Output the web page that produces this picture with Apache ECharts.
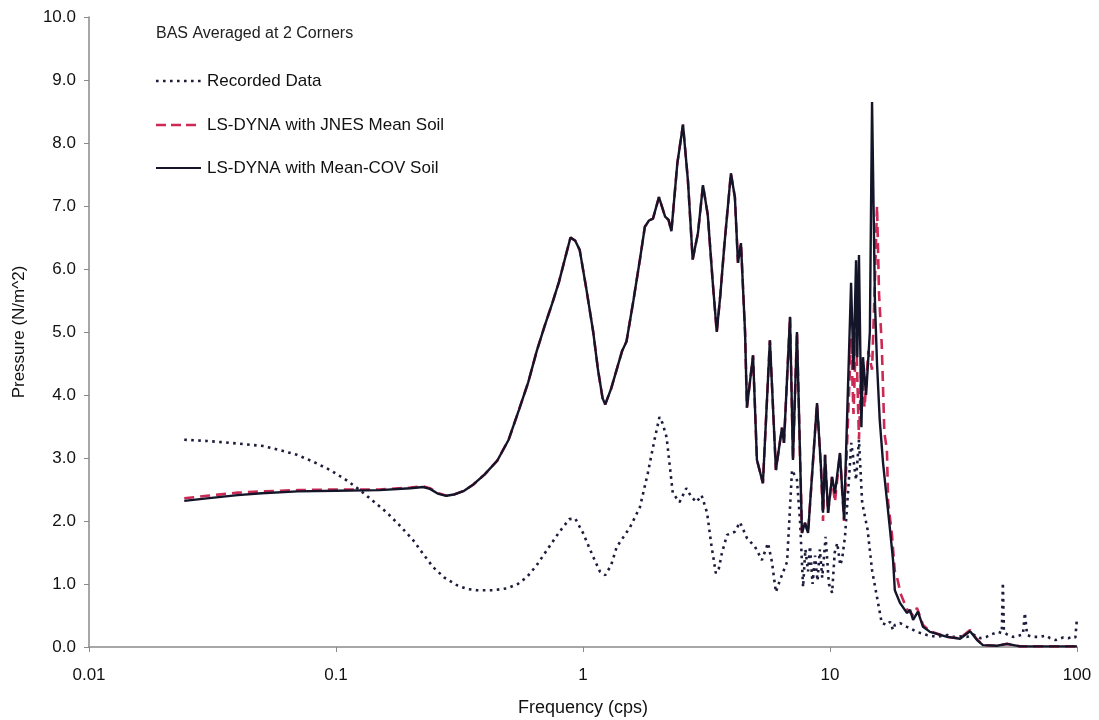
<!DOCTYPE html>
<html>
<head>
<meta charset="utf-8">
<script src="https://cdn.jsdelivr.net/npm/echarts@6/dist/echarts.min.js"></script>
<style>
html,body{margin:0;padding:0;background:#fff;width:1099px;height:720px;overflow:hidden;}
#chart{position:absolute;left:0;top:0;width:1099px;height:720px;}
</style>
</head>
<body>
<div id="chart"></div>
<script>
// ---- Data ----
var chartTitle = 'BAS Averaged at 2 Corners';
var seriesNames = ['Recorded Data', 'LS-DYNA with JNES Mean Soil', 'LS-DYNA with Mean-COV Soil'];
var xTickLabels = ['0.01', '0.1', '1', '10', '100'];
var yTickLabels = ['0.0','1.0','2.0','3.0','4.0','5.0','6.0','7.0','8.0','9.0','10.0'];

// Recorded Data (dotted)
var recFreq = [0.0243,0.030,0.035,0.045,0.0507,0.060,0.0695,0.080,0.0946,0.110,0.125,0.142,0.161,0.182,0.205,0.225,0.247,0.275,0.309,0.34,0.372,0.43,0.492,0.545,0.593,0.650,0.715,0.80,0.88,0.93,1.00,1.10,1.17,1.23,1.30,1.37,1.55,1.70,1.83,1.95,2.04,2.10,2.18,2.31,2.46,2.62,2.75,2.88,3.02,3.18,3.30,3.45,3.55,3.65,3.83,4.12,4.32,4.61,4.97,5.30,5.61,5.82,6.04,6.27,6.70,7.02,7.35,7.56,7.78,7.95,8.15,8.3,8.5,8.7,8.9,9.1,9.3,9.6,9.9,10.2,10.45,10.7,11.0,11.2,11.5,11.9,12.2,12.75,13.1,13.5,14.2,14.8,15.5,16.2,17.0,17.5,18.0,18.3,19.2,20.5,22.5,24.7,27.0,29.8,31.4,33.6,35.9,38.0,40.5,43.0,44.4,47.9,49.6,50.1,50.6,52.1,55.1,58.0,60.4,61.5,62.8,66.0,70.8,75.0,77.8,82.0,87.7,92.0,96.4,98.5,99.1,100];
var recVal  = [3.29,3.27,3.25,3.21,3.19,3.12,3.05,2.95,2.81,2.65,2.49,2.31,2.13,1.92,1.70,1.48,1.27,1.10,0.98,0.92,0.90,0.90,0.93,1.00,1.11,1.30,1.54,1.82,2.03,2.04,1.81,1.43,1.20,1.14,1.30,1.59,1.90,2.22,2.76,3.30,3.65,3.55,3.33,2.44,2.30,2.52,2.38,2.30,2.41,2.13,1.65,1.17,1.25,1.49,1.78,1.83,1.98,1.73,1.59,1.38,1.65,1.35,0.87,1.06,1.35,2.81,2.65,2.02,0.95,1.55,1.20,1.60,1.00,1.45,1.05,1.55,1.10,1.75,1.00,0.86,1.50,1.65,1.30,1.40,1.75,2.60,3.24,2.65,3.29,2.29,1.86,1.22,0.79,0.38,0.35,0.40,0.27,0.35,0.38,0.32,0.24,0.19,0.16,0.19,0.16,0.17,0.16,0.20,0.14,0.16,0.19,0.24,0.22,1.02,0.24,0.20,0.16,0.18,0.20,0.54,0.19,0.16,0.16,0.18,0.14,0.11,0.15,0.14,0.16,0.15,0.18,0.46,0.16];

// LS-DYNA with JNES Mean Soil (red dashed)
var jnesFreq = [0.0243,0.03,0.04,0.05,0.07,0.1,0.15,0.2,0.225,0.24,0.26,0.28,0.30,0.33,0.36,0.40,0.45,0.50,0.55,0.60,0.65,0.70,0.75,0.80,0.85,0.89,0.93,0.97,1.03,1.10,1.15,1.2,1.23,1.30,1.38,1.44,1.50,1.60,1.70,1.78,1.85,1.92,2.03,2.15,2.22,2.28,2.41,2.54,2.66,2.78,2.92,3.06,3.20,3.35,3.48,3.6,3.73,3.97,4.12,4.24,4.36,4.53,4.61,4.88,5.06,5.35,5.71,6.04,6.39,6.51,6.89,7.08,7.35,7.70,7.92,8.15,8.86,9.19,9.37,9.55,9.82,10.19,10.47,10.97,11.4,11.8,12.17,12.45,12.75,13.1,13.4,13.8,14.3,14.8,15.2,15.5,15.8,16.2,16.6,17.0,17.2,17.8,18.3,18.8,19.3,20.5,21.7,22.5,23.8,25.4,29.8,33.6,36.9,39.4,41.6,47.4,52.1,58.8,100];
var jnesVal  = [2.36,2.40,2.45,2.47,2.49,2.50,2.50,2.53,2.55,2.52,2.44,2.40,2.42,2.48,2.58,2.74,2.96,3.29,3.76,4.20,4.70,5.10,5.45,5.80,6.20,6.50,6.45,6.30,5.70,5.00,4.40,3.95,3.85,4.10,4.45,4.70,4.85,5.50,6.15,6.67,6.77,6.80,7.14,6.83,6.78,6.60,7.68,8.29,7.40,6.15,6.57,7.33,6.86,5.80,5.00,5.60,6.35,7.52,7.14,6.10,6.41,5.00,3.80,4.63,2.97,2.60,4.87,2.81,3.48,3.24,5.24,2.97,5.00,1.81,1.97,1.81,3.87,2.86,2.00,3.05,2.13,2.70,2.30,3.08,2.00,3.50,4.90,3.70,5.00,3.30,4.50,3.80,4.70,4.40,5.80,7.00,5.60,4.80,3.40,3.13,2.29,1.80,1.20,1.06,0.85,0.60,0.50,0.62,0.35,0.25,0.16,0.14,0.27,0.12,0.03,0.02,0.05,0.01,0.01];

// LS-DYNA with Mean-COV Soil (black solid)
var covFreq = [0.0243,0.03,0.04,0.05,0.07,0.1,0.15,0.2,0.225,0.24,0.26,0.28,0.30,0.33,0.36,0.40,0.45,0.50,0.55,0.60,0.65,0.70,0.75,0.80,0.85,0.89,0.93,0.97,1.03,1.10,1.15,1.2,1.23,1.30,1.38,1.44,1.50,1.60,1.70,1.78,1.85,1.92,2.03,2.15,2.22,2.28,2.41,2.54,2.66,2.78,2.92,3.06,3.20,3.35,3.48,3.6,3.73,3.97,4.12,4.24,4.36,4.53,4.61,4.88,5.06,5.35,5.71,6.04,6.39,6.51,6.89,7.08,7.35,7.70,7.92,8.15,8.86,9.19,9.37,9.55,9.82,10.19,10.47,10.97,11.4,11.8,12.17,12.45,12.75,12.9,13.1,13.4,13.6,14.0,14.5,14.8,15.2,15.5,15.9,16.4,17.0,17.5,18.0,18.3,19.2,20.5,21.1,21.7,22.7,23.8,25.4,29.8,33.6,36.9,39.4,41.6,47.4,52.1,58.8,100];
var covVal  = [2.32,2.36,2.41,2.44,2.47,2.48,2.49,2.52,2.54,2.51,2.43,2.40,2.42,2.48,2.58,2.74,2.96,3.29,3.76,4.20,4.70,5.10,5.45,5.80,6.20,6.50,6.45,6.30,5.70,5.00,4.40,3.95,3.85,4.10,4.45,4.70,4.85,5.50,6.15,6.67,6.77,6.80,7.14,6.83,6.78,6.60,7.68,8.29,7.40,6.15,6.57,7.33,6.86,5.80,5.00,5.60,6.35,7.52,7.14,6.10,6.41,5.00,3.80,4.63,2.97,2.60,4.87,2.81,3.48,3.24,5.24,2.97,5.00,1.81,1.97,1.81,3.87,2.86,2.13,3.05,2.13,2.70,2.44,3.08,2.02,4.00,5.78,4.40,6.14,4.60,6.22,3.49,4.60,4.00,5.00,8.65,5.50,4.50,3.60,2.92,2.33,1.86,1.38,0.90,0.70,0.54,0.59,0.43,0.56,0.32,0.24,0.16,0.13,0.25,0.11,0.03,0.02,0.05,0.01,0.01];

function pairs(f, v) { return f.map(function (x, i) { return [x, v[i]]; }); }

var chart = echarts.init(document.getElementById('chart'), null, {renderer: 'canvas', width: 1099, height: 720});
var FONT = '"Liberation Sans", Arial, sans-serif';
var axisGray = '#8a8a8a';
var colRec = '#1c1c3c', colJnes = '#cc2a55', colCov = '#15152a';

// legend drawn as graphic line samples + text (styles only)
var legendStyles = [
  {stroke: colRec, lineWidth: 2.6, lineDash: [2.6, 4.4]},
  {stroke: colJnes, lineWidth: 2.6, lineDash: [10, 5]},
  {stroke: colCov, lineWidth: 2.2, lineDash: null}
];
var legendY = [81, 125, 168];
var legendGraphics = [];
seriesNames.forEach(function (name, i) {
  legendGraphics.push({
    type: 'line', silent: true,
    shape: {x1: 156, y1: legendY[i], x2: 201, y2: legendY[i]},
    style: legendStyles[i]
  });
  legendGraphics.push({
    type: 'text', silent: true, x: 207, y: legendY[i],
    style: {text: name, fill: '#111', font: '17px "Liberation Sans", Arial, sans-serif', verticalAlign: 'middle', align: 'left'}
  });
});

chart.setOption({
  backgroundColor: '#ffffff',
  animation: false,
  title: {
    text: chartTitle,
    left: 151, top: 21,
    textStyle: {fontFamily: FONT, fontSize: 16, fontWeight: 'normal', color: '#222'}
  },
  graphic: legendGraphics,
  grid: {left: 89, right: 22, top: 17, bottom: 73, containLabel: false, outerBoundsMode: 'none'},
  xAxis: {
    type: 'log', logBase: 10, min: 0.01, max: 100,
    name: 'Frequency (cps)', nameLocation: 'middle', nameGap: 52,
    nameTextStyle: {fontFamily: FONT, fontSize: 18, color: '#111'},
    axisLine: {lineStyle: {color: axisGray, width: 1.5}},
    axisTick: {show: true, length: 5, lineStyle: {color: axisGray}},
    minorTick: {show: false},
    splitLine: {show: false},
    axisLabel: {
      fontFamily: FONT, fontSize: 17, color: '#111', margin: 20,
      formatter: function (v) {
        var k = Math.round(Math.log10(v)) + 2;
        return xTickLabels[k] !== undefined ? xTickLabels[k] : '';
      }
    }
  },
  yAxis: {
    type: 'value', min: 0, max: 10, interval: 1,
    name: 'Pressure (N/m^2)', nameLocation: 'middle', nameGap: 61, nameRotate: 90,
    nameTextStyle: {fontFamily: FONT, fontSize: 17, color: '#111'},
    axisLine: {show: true, lineStyle: {color: axisGray, width: 1.5}},
    axisTick: {show: true, length: 5, lineStyle: {color: axisGray}},
    splitLine: {show: false},
    axisLabel: {
      fontFamily: FONT, fontSize: 17, color: '#111', margin: 13,
      formatter: function (v) { return yTickLabels[Math.round(v)]; }
    }
  },
  series: [
    {
      name: seriesNames[0], type: 'line', symbol: 'none', data: pairs(recFreq, recVal),
      lineStyle: {color: colRec, width: 2.6, type: [2.6, 4.4], cap: 'butt'},
      itemStyle: {color: colRec}, z: 2
    },
    {
      name: seriesNames[1], type: 'line', symbol: 'none', data: pairs(jnesFreq, jnesVal),
      lineStyle: {color: colJnes, width: 2.6, type: [10, 6]},
      itemStyle: {color: colJnes}, z: 3
    },
    {
      name: seriesNames[2], type: 'line', symbol: 'none', data: pairs(covFreq, covVal),
      lineStyle: {color: colCov, width: 2.4},
      itemStyle: {color: colCov}, z: 4
    }
  ]
});
</script>
</body>
</html>
